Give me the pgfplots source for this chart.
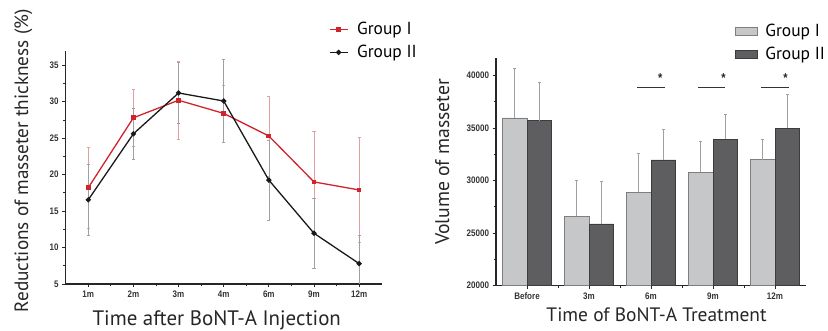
\documentclass[border=0pt]{standalone}
\usepackage{pgfplots}
\pgfplotsset{compat=1.18}
\usepackage{fontspec}
\setmainfont{PT Sans}
\newfontfamily\tickfont[FakeStretch=0.85]{Liberation Sans}
\definecolor{gred}{HTML}{D0232C}
\definecolor{gredlt}{HTML}{E3A0A4}
\definecolor{errgray}{HTML}{A0A0A0}
\definecolor{barlt}{HTML}{C6C7C9}
\definecolor{barltb}{HTML}{7E7E80}
\definecolor{bardk}{HTML}{5E5E60}
\definecolor{bardkb}{HTML}{3C3C3E}
\begin{document}
\begin{tikzpicture}
\useasboundingbox (0bp,0bp) rectangle (828bp,331bp);
% ---------------- left line chart ----------------
\begin{axis}[
  at={(65.7bp,47bp)}, anchor=south west,
  width=316bp, height=233.3bp, scale only axis,
  xmin=0.5, xmax=7.5, ymin=5, ymax=37,
  axis x line*=bottom, axis y line*=left,
  axis line style={line width=1.1pt, black!85},
  xtick={1,...,7}, xticklabels={1m,2m,3m,4m,6m,9m,12m},
  minor x tick num=1,
  ytick={5,10,...,35}, minor y tick num=1,
  tick align=outside,
  major tick length=3.5bp, minor tick length=2.5bp,
  tick style={line width=0.9pt, black!85},
  /pgf/number format/assume math mode=true,
  ticklabel style={font=\tickfont\bfseries\fontsize{9.5}{10}\selectfont, text=black!80},
  xlabel={Time after BoNT-A Injection},
  ylabel={Reductions of masseter thickness (\%)},
  label style={text=black!85},
  xlabel style={font=\fontsize{21}{22}\selectfont, at={(axis description cs:0.478,-0.176)}, anchor=base},
  ylabel style={font=\fontsize{19.3}{20}\selectfont, at={(axis description cs:-0.119,0.528)}, anchor=base, rotate=0},
  legend style={at={(axis description cs:0.833,1.13)}, anchor=north west,
    draw=none, fill=none, font=\fontsize{17.5}{18}\selectfont, row sep=5bp,
    column sep=7bp, inner sep=0pt, cells={anchor=west}},
  legend cell align=left,
  legend image code/.code={\draw[#1, line width=1pt] (0bp,0bp) -- (18bp,0bp);
     \draw[#1, only marks] plot coordinates {(9bp,0bp)};},
]
\addplot[gred, line width=1.3pt, mark=square*, mark size=1.7pt,
  error bars/.cd, y dir=both, y explicit,
  error bar style={gredlt, line width=0.5pt},
  error mark options={rotate=90, mark size=1.6pt, gredlt, line width=0.5pt}]
  coordinates {
  (1,18.2) +- (0,5.6)
  (2,27.8) +- (0,3.9)
  (3,30.2) +- (0,5.3)
  (4,28.4) +- (0,3.9)
  (5,25.3) +- (0,5.5)
  (6,19.0) +- (0,6.9)
  (7,17.9) +- (0,7.2)
  };
\addlegendentry{Group I}
\addplot[black!90, line width=1.3pt, mark=*, mark size=1.9pt,
  error bars/.cd, y dir=both, y explicit,
  error bar style={errgray, line width=0.5pt},
  error mark options={rotate=90, mark size=1.6pt, errgray, line width=0.5pt}]
  coordinates {
  (1,16.55) +- (0,4.85)
  (2,25.6) +- (0,3.5)
  (3,31.2) +- (0,4.15)
  (4,30.1) +- (0,5.7)
  (5,19.25) +- (0,5.45)
  (6,11.96) +- (0,4.8)
  (7,7.8) +- (0,3.9)
  };
\addlegendentry{Group II}
\end{axis}
% ---------------- right bar chart ----------------
\begin{axis}[
  at={(496bp,45.3bp)}, anchor=south west,
  width=310bp, height=227.4bp, scale only axis,
  xmin=-0.5, xmax=4.5, ymin=20000, ymax=41650,
  axis x line*=bottom, axis y line*=left,
  axis line style={line width=1.1pt, black!85},
  xtick={0,...,4}, xticklabels={Before,3m,6m,9m,12m},
  minor xtick={0.5,1.5,2.5,3.5},
  ytick={20000,25000,...,40000}, minor y tick num=1,
  scaled y ticks=false,
  /pgf/number format/.cd, set thousands separator={}, assume math mode=true, /pgfplots/.cd,
  tick align=outside,
  major tick length=3.5bp, minor tick length=2.5bp,
  tick style={line width=0.9pt, black!85},
  ticklabel style={font=\tickfont\bfseries\fontsize{9.5}{10}\selectfont, text=black!80},
  xlabel={Time of BoNT-A Treatment},
  ylabel={Volume of masseter},
  label style={text=black!85},
  xlabel style={font=\fontsize{19.5}{20}\selectfont, at={(axis description cs:0.518,-0.158)}, anchor=base},
  ylabel style={font=\fontsize{19.8}{20}\selectfont, at={(axis description cs:-0.151,0.544)}, anchor=base, rotate=0},
  ybar, bar width=0.4,
  legend style={at={(axis description cs:0.769,1.16)}, anchor=north west,
    draw=none, fill=none, font=\fontsize{17.5}{18}\selectfont, row sep=5bp,
    column sep=6bp, inner sep=0pt, cells={anchor=west}},
  legend cell align=left,
  legend image code/.code={\draw[#1] (0bp,-4bp) rectangle (22bp,4bp);},
]
\addplot[fill=barlt, draw=barltb, line width=0.8pt, bar shift=-0.2,
  error bars/.cd, y dir=plus, y explicit,
  error bar style={errgray, line width=0.7pt},
  error mark options={rotate=90, mark size=1.5pt, errgray, line width=0.7pt}]
  coordinates {
  (0,35970) +- (0,4700)
  (1,26600) +- (0,3400)
  (2,28900) +- (0,3700)
  (3,30800) +- (0,2900)
  (4,31980) +- (0,2000)
  };
\addlegendentry{Group I}
\addplot[fill=bardk, draw=bardkb, line width=0.8pt, bar shift=0.2,
  error bars/.cd, y dir=plus, y explicit,
  error bar style={errgray, line width=0.7pt},
  error mark options={rotate=90, mark size=1.5pt, errgray, line width=0.7pt}]
  coordinates {
  (0,35700) +- (0,3700)
  (1,25880) +- (0,4100)
  (2,31970) +- (0,2900)
  (3,33940) +- (0,2400)
  (4,35000) +- (0,3200)
  };
\addlegendentry{Group II}
% significance brackets
\addplot[sharp plot, black!80, line width=1.5pt, forget plot] coordinates {(1.78,38850) (2.22,38850)};
\addplot[sharp plot, black!80, line width=1.5pt, forget plot] coordinates {(2.76,38850) (3.2,38850)};
\addplot[sharp plot, black!80, line width=1.5pt, forget plot] coordinates {(3.78,38850) (4.22,38850)};
\node[font=\tickfont\bfseries\fontsize{13}{13}\selectfont, anchor=center, text=black!85] at (axis cs:2.15,39800) {*};
\node[font=\tickfont\bfseries\fontsize{13}{13}\selectfont, anchor=center, text=black!85] at (axis cs:3.17,39800) {*};
\node[font=\tickfont\bfseries\fontsize{13}{13}\selectfont, anchor=center, text=black!85] at (axis cs:4.17,39800) {*};
\end{axis}
\end{tikzpicture}
\end{document}
